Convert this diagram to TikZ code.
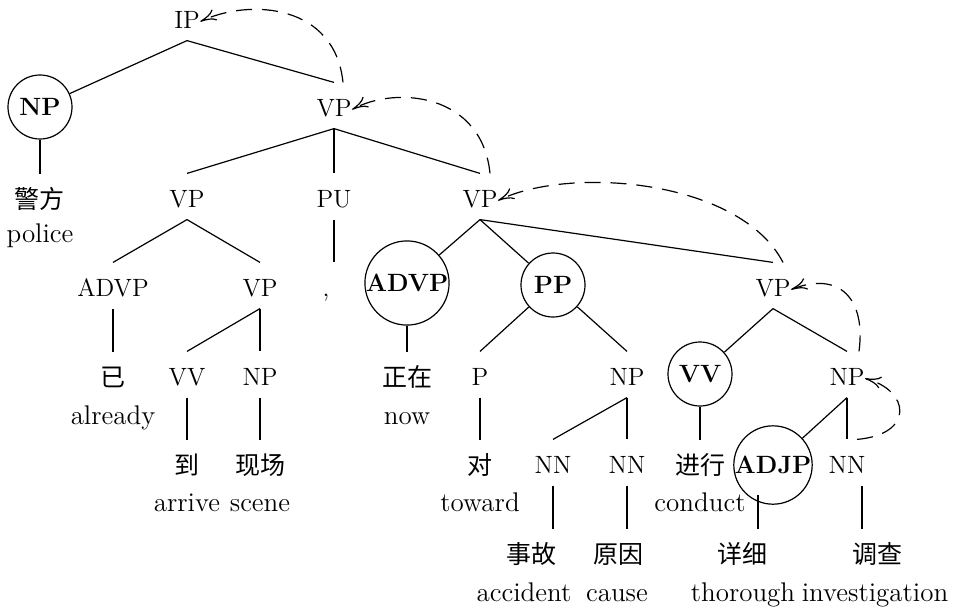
\documentclass[tikz,border=0pt]{standalone}
\usepackage{fontspec}
\newfontfamily\zh{Noto Sans CJK SC}
\usetikzlibrary{arrows.meta}
\newcommand\treesize{\fontsize{12.5}{15}\selectfont}

\tikzset{
  cat/.style={anchor=base, inner sep=0pt, text height=16.75pt, text depth=5.75pt},
  wd/.style={cat, font=\treesize\zh},
  gl/.style={anchor=base, inner sep=0pt, font=\fontsize{13.5}{16}\selectfont},
  hd/.style={draw, circle, minimum size=32pt, inner sep=0pt, font=\fontsize{12.5}{15}\selectfont\bfseries},
  mv/.style={dash pattern=on 8pt off 5pt, -{To[length=8pt,width=6pt]}}
}

\begin{document}
\begin{tikzpicture}[x=0.5pt, y=-0.5pt, line width=0.6pt, font=\treesize]
        \useasboundingbox (0,0) rectangle (966,612);

        %Categories
        \node [cat] (ip) at (187,28.5) {IP};
        \node [hd] (np1) at (40,107) {NP};
        \node [cat] (vp1) at (334,116.5) {VP};

        \node [cat] (vp2l) at (187,207.5) {VP};
        \node [cat] (pu) at (334,207.5) {PU};
        \node [cat] (vp2r) at (480,207.5) {VP};

        \node [cat] (advp3) at (113,296.5) {ADVP};
        \node [cat] (vp3) at (260,296.5) {VP};
        \node [hd] (advp3c) at (407,283) {ADVP};
        \node [hd] (pp) at (553,285) {PP};
        \node [cat] (vp3r) at (773,296.5) {VP};

        \node [cat] (vv4) at (187,385.5) {VV};
        \node [cat] (np4) at (260,385.5) {NP};
        \node [cat] (p4) at (480,385.5) {P};
        \node [cat] (np4m) at (627,385.5) {NP};
        \node [hd] (vv4c) at (700,374) {VV};
        \node [cat] (np4r) at (847,385.5) {NP};

        \node [cat] (nn5a) at (553,473.5) {NN};
        \node [cat] (nn5b) at (627,473.5) {NN};
        \node [hd] (adjp) at (773,465) {ADJP};
        \node [cat] (nn5r) at (847,473.5) {NN};

        %Words and glosses
        \node [wd] (jf) at (40,208.5) {警方};
        \node [gl] (jfg) at (40,242) {police};
        \node [cat] (cm) at (326,296.5) {,};
        \node [wd] (yi) at (113,386.5) {已};
        \node [gl] (yig) at (113,424) {already};
        \node [wd] (zz) at (407,386.5) {正在};
        \node [gl] (zzg) at (407,424) {now};
        \node [wd] (dao) at (187,474.5) {到};
        \node [gl] (daog) at (187,511.5) {arrive};
        \node [wd] (xc) at (260,474.5) {现场};
        \node [gl] (xcg) at (260,511.5) {scene};
        \node [wd] (dui) at (480,474.5) {对};
        \node [gl] (duig) at (480,511.5) {toward};
        \node [wd] (jx) at (700,474.5) {进行};
        \node [gl] (jxg) at (700,511.5) {conduct};
        \node [wd] (sg) at (531,563.5) {事故};
        \node [gl] (sgg) at (524,601) {accident};
        \node [wd] (yy) at (618,563.5) {原因};
        \node [gl] (yyg) at (617,601) {cause};
        \node [wd] (xx) at (742,563.5) {详细};
        \node [gl] (xxg) at (743,601) {thorough};
        \node [wd] (dc) at (877,563.5) {调查};
        \node [gl] (dcg) at (875,601) {investigation};

        %Branches
        \draw (ip.south) -- (np1);
        \draw (ip.south) -- (vp1.north);
        \draw (np1) -- (jf.north);

        \draw (vp1.south) -- (vp2l.north);
        \draw (vp1.south) -- (pu.north);
        \draw (vp1.south) -- (vp2r.north);

        \draw (vp2l.south) -- (advp3.north);
        \draw (vp2l.south) -- (vp3.north);
        \draw (pu.south) -- (pu.south |- cm.north);
        \draw (vp2r.south) -- (advp3c);
        \draw (vp2r.south) -- (pp);
        \draw (vp2r.south) -- (vp3r.north);

        \draw (advp3.south) -- (yi.north);
        \draw (vp3.south) -- (vv4.north);
        \draw (vp3.south) -- (np4.north);
        \draw (advp3c) -- (zz.north);
        \draw (pp) -- (p4.north);
        \draw (pp) -- (np4m.north);
        \draw (vp3r.south) -- (vv4c);
        \draw (vp3r.south) -- (np4r.north);

        \draw (vv4.south) -- (dao.north);
        \draw (np4.south) -- (xc.north);
        \draw (p4.south) -- (dui.north);
        \draw (np4m.south) -- (nn5a.north);
        \draw (np4m.south) -- (nn5b.north);
        \draw (vv4c) -- (jx.north);
        \draw (np4r.south) -- (adjp);
        \draw (np4r.south) -- (nn5r.north);

        \coordinate (adjpfoot) at ([xshift=-7.5pt,yshift=5pt]adjp.south);
        \coordinate (nnfoot) at ([xshift=7.5pt]nn5r.south);
        \draw (nn5a.south) -- (nn5a.south |- sg.north);
        \draw (nn5b.south) -- (nn5b.south |- yy.north);
        \draw (adjpfoot) -- (adjpfoot |- xx.north);
        \draw (nnfoot) -- (nnfoot |- dc.north);

        %Head paths
        \draw [mv] ([xshift=4.5pt]vp1.north) .. controls +(-8,-78) and +(50,-23.5) .. ([yshift=-2pt]ip.east);
        \draw [mv] ([xshift=5pt]vp2r.north) .. controls +(-8,-80) and +(44,-24) .. ([yshift=-2pt]vp1.east);
        \draw [mv] ([xshift=5pt]vp3r.north) .. controls +(-43,-83) and +(72,-35) .. ([yshift=-2pt]vp2r.east);
        \draw [mv] ([xshift=6pt]np4r.north) .. controls +(7,-52) and +(49,-19) .. ([yshift=-2pt]vp3r.east);
        \draw [mv] ([xshift=5pt]nn5r.north) .. controls +(58,-5) and +(45,12) .. ([yshift=-2pt]np4r.east);
\end{tikzpicture}
\end{document}
